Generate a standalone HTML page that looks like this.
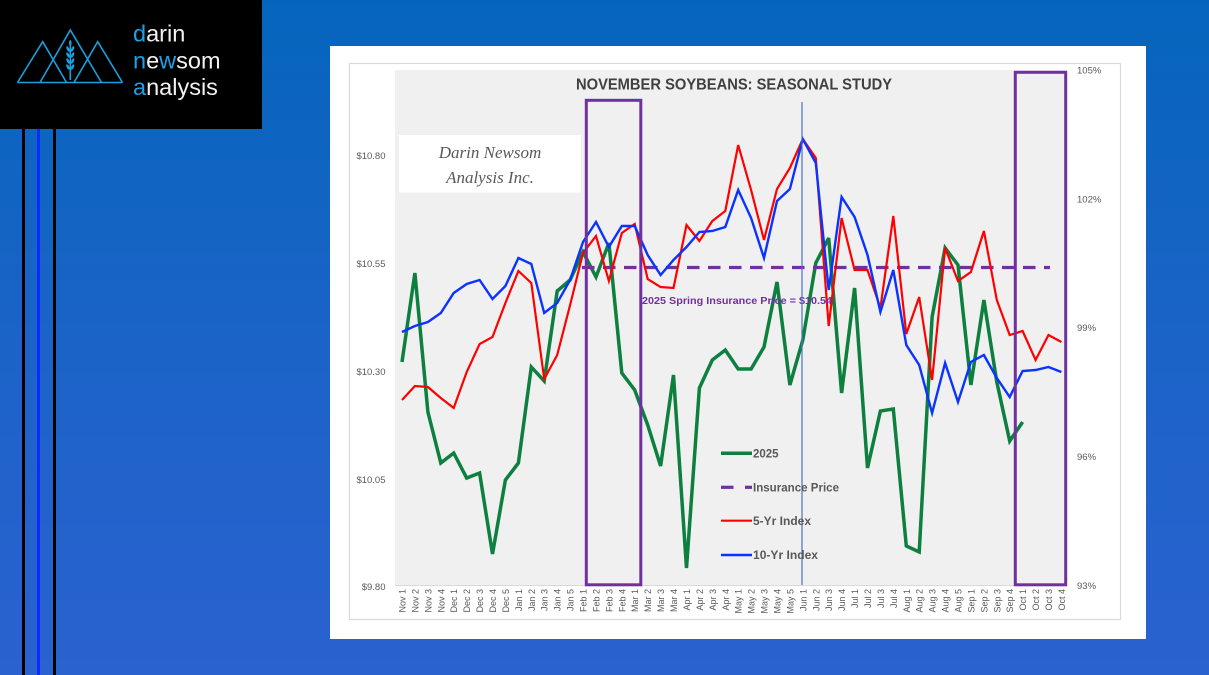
<!DOCTYPE html>
<html>
<head>
<meta charset="utf-8">
<style>
html,body{margin:0;padding:0;}
body{width:1209px;height:675px;overflow:hidden;background:linear-gradient(180deg,#0565bd 0%,#1a63c6 45%,#2a62d0 100%);}
svg{display:block;}
</style>
</head>
<body>
<svg width="1209" height="675" viewBox="0 0 1209 675" xmlns="http://www.w3.org/2000/svg">
<defs>
<linearGradient id="bg" x1="0" y1="0" x2="0" y2="1">
<stop offset="0" stop-color="#0565bd"/>
<stop offset="0.5" stop-color="#1b63c7"/>
<stop offset="1" stop-color="#2a62d0"/>
</linearGradient>
</defs>
<rect x="0" y="0" width="1209" height="675" fill="url(#bg)"/>

<!-- left stripes -->
<rect x="22" y="129" width="3" height="546" fill="#000"/>
<rect x="37" y="129" width="3" height="546" fill="#0a2cff"/>
<rect x="53" y="129" width="3" height="546" fill="#000"/>

<!-- logo -->
<rect x="0" y="0" width="262" height="129" fill="#000"/>
<g fill="none" stroke="#1a9fe0" stroke-width="1.6" stroke-linejoin="miter">
<polyline points="17.5,82.5 42.7,41.7 66.5,82.5"/>
<polyline points="40,82.5 70.3,30 101.5,82.5"/>
<polyline points="74,82.5 97.7,41.7 122.5,82.5"/>
<line x1="17.5" y1="82.5" x2="122.5" y2="82.5"/>
<line x1="70.3" y1="44" x2="70.3" y2="80"/>
</g>
<g fill="#1a9fe0">
<ellipse cx="70.3" cy="43" rx="1.3" ry="3"/>
<ellipse cx="68" cy="49" rx="1.3" ry="3" transform="rotate(-25 68 49)"/>
<ellipse cx="72.6" cy="49" rx="1.3" ry="3" transform="rotate(25 72.6 49)"/>
<ellipse cx="68" cy="55" rx="1.3" ry="3" transform="rotate(-25 68 55)"/>
<ellipse cx="72.6" cy="55" rx="1.3" ry="3" transform="rotate(25 72.6 55)"/>
<ellipse cx="68" cy="61" rx="1.3" ry="3" transform="rotate(-25 68 61)"/>
<ellipse cx="72.6" cy="61" rx="1.3" ry="3" transform="rotate(25 72.6 61)"/>
<ellipse cx="68" cy="67" rx="1.3" ry="3" transform="rotate(-25 68 67)"/>
<ellipse cx="72.6" cy="67" rx="1.3" ry="3" transform="rotate(25 72.6 67)"/>
</g>
<g font-family="'Liberation Sans', sans-serif" font-size="23.5" fill="#f2f2f2">
<text x="133" y="41.5"><tspan fill="#1ea0e6">d</tspan>arin</text>
<text x="133" y="68.3"><tspan fill="#1ea0e6">n</tspan>e<tspan fill="#1ea0e6">w</tspan>som</text>
<text x="133" y="95"><tspan fill="#1ea0e6">a</tspan>nalysis</text>
</g>

<!-- chart white card -->
<rect x="330" y="46" width="816" height="593" fill="#ffffff"/>
<rect x="349.5" y="63.5" width="771" height="556" fill="none" stroke="#d9d9d9" stroke-width="1.2"/>
<!-- plot area -->
<rect x="395" y="70" width="672" height="515.5" fill="#f0f0f0"/>
<line x1="395" y1="585.5" x2="1067" y2="585.5" stroke="#d9d9d9" stroke-width="1"/>

<!-- watermark -->
<rect x="399" y="135" width="182" height="57.5" fill="#ffffff"/>
<g font-family="'Liberation Serif', serif" font-style="italic" font-size="17" fill="#595959" text-anchor="middle">
<text x="490" y="158">Darin Newsom</text>
<text x="490" y="183">Analysis Inc.</text>
</g>

<!-- title -->
<text x="576" y="89.5" font-family="'Liberation Sans', sans-serif" font-weight="bold" font-size="16" fill="#404040" textLength="316" lengthAdjust="spacingAndGlyphs">NOVEMBER SOYBEANS: SEASONAL STUDY</text>

<!-- left axis labels -->
<g font-family="'Liberation Sans', sans-serif" font-size="9.5" fill="#595959" text-anchor="end">
<text x="385.5" y="159">$10.80</text>
<text x="385.5" y="267">$10.55</text>
<text x="385.5" y="375">$10.30</text>
<text x="385.5" y="483">$10.05</text>
<text x="385.5" y="590">$9.80</text>
</g>
<!-- right axis labels -->
<g font-family="'Liberation Sans', sans-serif" font-size="9.5" fill="#595959">
<text x="1077" y="73.5">105%</text>
<text x="1077" y="202.5">102%</text>
<text x="1077" y="331">99%</text>
<text x="1077" y="460">96%</text>
<text x="1077" y="589">93%</text>
</g>

<!-- series -->
<polyline fill="none" stroke="#0d8040" stroke-width="3.5" stroke-linejoin="miter" stroke-miterlimit="3" points="402,362 414.9,273 427.9,412 440.8,463 453.7,453 466.7,478 479.6,473 492.5,554 505.4,480 518.4,463 531.3,367 544.2,381 557.2,291 570.1,280 583,252 596,277 608.9,243 621.8,373 634.7,390 647.7,425 660.6,466 673.5,375 686.5,568 699.4,388 712.3,360 725.3,350 738.2,369 751.1,369 764,347 777,282 789.9,385 802.8,340 815.8,263 828.7,238 841.6,393 854.6,288 867.5,468 880.4,411 893.3,409 906.3,546 919.2,552 932.1,317 945.1,248 958,265 970.9,385 983.9,300 996.8,382 1009.7,441 1022.6,422"/>

<line x1="582" y1="267.5" x2="1050" y2="267.5" stroke="#7030a0" stroke-width="3.2" stroke-dasharray="12.5 8.5"/>

<polyline fill="none" stroke="#ff0000" stroke-width="2.2" stroke-linejoin="miter" stroke-miterlimit="4" points="402,400 414.9,386 427.9,387 440.8,398 453.7,408 466.7,372 479.6,344 492.5,337 505.4,303 518.4,271 531.3,283 544.2,379 557.2,355 570.1,305 583,253 596,236 608.9,281 621.8,233 634.7,224 647.7,279 660.6,287 673.5,288 686.5,225 699.4,241 712.3,221 725.3,211 738.2,145 751.1,190 764,240 777,189 789.9,168 802.8,139 815.8,158 828.7,326 841.6,218 854.6,270 867.5,270 880.4,308 893.3,216 906.3,334 919.2,297 932.1,380 945.1,248 958,281 970.9,272 983.9,231 996.8,300 1009.7,335 1022.6,331 1035.6,360 1048.5,335 1061.4,342"/>

<polyline fill="none" stroke="#0a33ff" stroke-width="2.4" stroke-linejoin="miter" stroke-miterlimit="4" points="402,332 414.9,326 427.9,322 440.8,313 453.7,293 466.7,284 479.6,280 492.5,299 505.4,286 518.4,258 531.3,264 544.2,313 557.2,303 570.1,280 583,242 596,222 608.9,247 621.8,226 634.7,226 647.7,255 660.6,275 673.5,260 686.5,247 699.4,232 712.3,231 725.3,227 738.2,190 751.1,218 764,258 777,201 789.9,189 802.8,139 815.8,163 828.7,290 841.6,197 854.6,217 867.5,255 880.4,312 893.3,270 906.3,345 919.2,365 932.1,413 945.1,363 958,402 970.9,362 983.9,355 996.8,378 1009.7,397 1022.6,371 1035.6,370 1048.5,367 1061.4,372"/>

<!-- annotation -->
<text x="642" y="303.8" font-family="'Liberation Sans', sans-serif" font-weight="bold" font-size="10.5" fill="#7030a0" textLength="190" lengthAdjust="spacingAndGlyphs">2025 Spring Insurance Price = $10.54</text>

<!-- purple boxes -->
<rect x="586.3" y="100.3" width="54.5" height="484.5" fill="none" stroke="#7030a0" stroke-width="3"/>
<rect x="1015.3" y="72.3" width="50.4" height="512.5" fill="none" stroke="#7030a0" stroke-width="3"/>

<!-- Jun 1 marker -->
<line x1="802" y1="102" x2="802" y2="585" stroke="#4a72c4" stroke-width="1.2"/>

<!-- legend -->
<g font-family="'Liberation Sans', sans-serif" font-weight="bold" font-size="11.5" fill="#595959">
<line x1="721" y1="453.3" x2="752" y2="453.3" stroke="#0d8040" stroke-width="3.5"/>
<text x="753" y="457.5">2025</text>
<line x1="721" y1="487.3" x2="733.5" y2="487.3" stroke="#7030a0" stroke-width="3.2"/>
<line x1="745" y1="487.3" x2="752" y2="487.3" stroke="#7030a0" stroke-width="3.2"/>
<text x="753" y="491.5" textLength="86" lengthAdjust="spacingAndGlyphs">Insurance Price</text>
<line x1="721" y1="520.7" x2="752" y2="520.7" stroke="#ff0000" stroke-width="2.2"/>
<text x="753" y="525" textLength="58" lengthAdjust="spacingAndGlyphs">5-Yr Index</text>
<line x1="721" y1="555" x2="752" y2="555" stroke="#0a33ff" stroke-width="2.4"/>
<text x="753" y="559.2" textLength="65" lengthAdjust="spacingAndGlyphs">10-Yr Index</text>
</g>

<!-- x-axis labels -->
<g font-family="'Liberation Sans', sans-serif" font-size="9" fill="#595959" text-anchor="end">
<text transform="translate(405.5,589) rotate(-90)">Nov 1</text>
<text transform="translate(418.4,589) rotate(-90)">Nov 2</text>
<text transform="translate(431.4,589) rotate(-90)">Nov 3</text>
<text transform="translate(444.3,589) rotate(-90)">Nov 4</text>
<text transform="translate(457.2,589) rotate(-90)">Dec 1</text>
<text transform="translate(470.2,589) rotate(-90)">Dec 2</text>
<text transform="translate(483.1,589) rotate(-90)">Dec 3</text>
<text transform="translate(496,589) rotate(-90)">Dec 4</text>
<text transform="translate(508.9,589) rotate(-90)">Dec 5</text>
<text transform="translate(521.9,589) rotate(-90)">Jan 1</text>
<text transform="translate(534.8,589) rotate(-90)">Jan 2</text>
<text transform="translate(547.7,589) rotate(-90)">Jan 3</text>
<text transform="translate(560.7,589) rotate(-90)">Jan 4</text>
<text transform="translate(573.6,589) rotate(-90)">Jan 5</text>
<text transform="translate(586.5,589) rotate(-90)">Feb 1</text>
<text transform="translate(599.5,589) rotate(-90)">Feb 2</text>
<text transform="translate(612.4,589) rotate(-90)">Feb 3</text>
<text transform="translate(625.3,589) rotate(-90)">Feb 4</text>
<text transform="translate(638.2,589) rotate(-90)">Mar 1</text>
<text transform="translate(651.2,589) rotate(-90)">Mar 2</text>
<text transform="translate(664.1,589) rotate(-90)">Mar 3</text>
<text transform="translate(677,589) rotate(-90)">Mar 4</text>
<text transform="translate(690,589) rotate(-90)">Apr 1</text>
<text transform="translate(702.9,589) rotate(-90)">Apr 2</text>
<text transform="translate(715.8,589) rotate(-90)">Apr 3</text>
<text transform="translate(728.8,589) rotate(-90)">Apr 4</text>
<text transform="translate(741.7,589) rotate(-90)">May 1</text>
<text transform="translate(754.6,589) rotate(-90)">May 2</text>
<text transform="translate(767.5,589) rotate(-90)">May 3</text>
<text transform="translate(780.5,589) rotate(-90)">May 4</text>
<text transform="translate(793.4,589) rotate(-90)">May 5</text>
<text transform="translate(806.3,589) rotate(-90)">Jun 1</text>
<text transform="translate(819.3,589) rotate(-90)">Jun 2</text>
<text transform="translate(832.2,589) rotate(-90)">Jun 3</text>
<text transform="translate(845.1,589) rotate(-90)">Jun 4</text>
<text transform="translate(858.1,589) rotate(-90)">Jul 1</text>
<text transform="translate(871,589) rotate(-90)">Jul 2</text>
<text transform="translate(883.9,589) rotate(-90)">Jul 3</text>
<text transform="translate(896.8,589) rotate(-90)">Jul 4</text>
<text transform="translate(909.8,589) rotate(-90)">Aug 1</text>
<text transform="translate(922.7,589) rotate(-90)">Aug 2</text>
<text transform="translate(935.6,589) rotate(-90)">Aug 3</text>
<text transform="translate(948.6,589) rotate(-90)">Aug 4</text>
<text transform="translate(961.5,589) rotate(-90)">Aug 5</text>
<text transform="translate(974.4,589) rotate(-90)">Sep 1</text>
<text transform="translate(987.4,589) rotate(-90)">Sep 2</text>
<text transform="translate(1000.3,589) rotate(-90)">Sep 3</text>
<text transform="translate(1013.2,589) rotate(-90)">Sep 4</text>
<text transform="translate(1026.1,589) rotate(-90)">Oct 1</text>
<text transform="translate(1039.1,589) rotate(-90)">Oct 2</text>
<text transform="translate(1052,589) rotate(-90)">Oct 3</text>
<text transform="translate(1064.9,589) rotate(-90)">Oct 4</text>
</g>
</svg>
</body>
</html>
